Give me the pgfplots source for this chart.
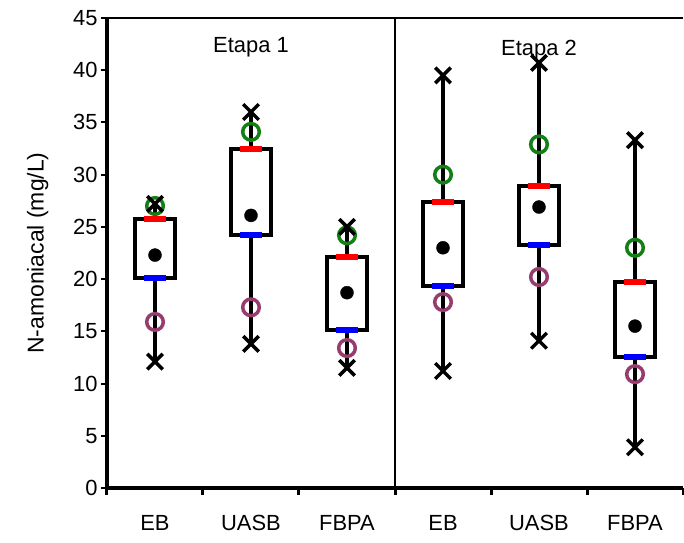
\documentclass[border=0pt]{standalone}
\usepackage{pgfplots}
\pgfplotsset{compat=1.18}
\usepackage{fontspec}
\setmainfont{Liberation Sans}
\definecolor{pgreen}{RGB}{20,128,20}
\definecolor{pplum}{RGB}{150,60,110}
\begin{document}
\begin{tikzpicture}
\useasboundingbox (-107bp,-55bp) rectangle (577bp,488bp);
\pgfplotstableread{
x  min  q1   mean q3   max  p10  p90
1  12.1 20.1 22.3 25.8 27.2 15.9 27.0
2  13.8 24.2 26.1 32.5 36.0 17.3 34.1
3  11.5 15.1 18.7 22.1 25.0 13.4 24.2
4  11.2 19.3 23.0 27.4 39.5 17.8 30.0
5  14.1 23.3 26.9 28.9 40.7 20.2 32.9
6  3.9  12.5 15.5 19.7 33.3 10.9 23.0
}\data
\begin{axis}[
  scale only axis, width=576bp, height=470bp,
  xmin=0.5, xmax=6.5, ymin=0, ymax=45,
  axis x line*=bottom, axis y line*=left,
  axis line style={line width=3.5bp},
  ytick={0,5,...,45},
  xtick={1,...,6},
  xticklabels={EB,UASB,FBPA,EB,UASB,FBPA},
  minor xtick={0.5,1.5,...,6.5},
  tick align=outside,
  major tick length=6bp, minor tick length=7bp,
  major x tick style={draw=none},
  minor x tick style={line width=3bp, black},
  y tick style={line width=2bp, black},
  /pgf/number format/assume math mode=true,
  tick label style={font=\fontsize{22}{26}\selectfont},
  xticklabel style={yshift=-18bp},
  ylabel={N-amoniacal (mg/L)},
  ylabel style={font=\fontsize{23}{26}\selectfont, yshift=18bp},
  clip=false,
]
% whiskers
\addplot[black, line width=4bp] coordinates {(1,12.1) (1,27.2)};
\addplot[black, line width=4bp] coordinates {(2,13.8) (2,36.0)};
\addplot[black, line width=4bp] coordinates {(3,11.5) (3,25.0)};
\addplot[black, line width=4bp] coordinates {(4,11.2) (4,39.5)};
\addplot[black, line width=4bp] coordinates {(5,14.1) (5,40.7)};
\addplot[black, line width=4bp] coordinates {(6,3.9) (6,33.3)};
% boxes (q1 to q3)
\addplot[black, line width=4bp, fill=white] coordinates {(0.79,20.1) (1.21,20.1) (1.21,25.8) (0.79,25.8)} -- cycle;
\addplot[black, line width=4bp, fill=white] coordinates {(1.79,24.2) (2.21,24.2) (2.21,32.5) (1.79,32.5)} -- cycle;
\addplot[black, line width=4bp, fill=white] coordinates {(2.79,15.1) (3.21,15.1) (3.21,22.1) (2.79,22.1)} -- cycle;
\addplot[black, line width=4bp, fill=white] coordinates {(3.79,19.3) (4.21,19.3) (4.21,27.4) (3.79,27.4)} -- cycle;
\addplot[black, line width=4bp, fill=white] coordinates {(4.79,23.3) (5.21,23.3) (5.21,28.9) (4.79,28.9)} -- cycle;
\addplot[black, line width=4bp, fill=white] coordinates {(5.79,12.5) (6.21,12.5) (6.21,19.7) (5.79,19.7)} -- cycle;
% quartile bars
\addplot[only marks, mark=-, mark size=11bp, mark options={red, line width=6bp}] table[x=x, y=q3] {\data};
\addplot[only marks, mark=-, mark size=11bp, mark options={blue, line width=6bp}] table[x=x, y=q1] {\data};
% percentiles
\addplot[only marks, mark=o, mark size=8.3bp, mark options={pgreen, line width=3.5bp}] table[x=x, y=p90] {\data};
\addplot[only marks, mark=o, mark size=8.3bp, mark options={pplum, line width=3.5bp}] table[x=x, y=p10] {\data};
% min / max
\addplot[only marks, mark=x, mark size=11bp, mark options={black, line width=3.5bp}] table[x=x, y=max] {\data};
\addplot[only marks, mark=x, mark size=11bp, mark options={black, line width=3.5bp}] table[x=x, y=min] {\data};
% mean
\addplot[only marks, mark=*, mark size=6.5bp, mark options={black}] table[x=x, y=mean] {\data};
% frame and separator
\draw[line width=2bp] (axis cs:0.5,45) -- (axis cs:6.5,45);
\draw[line width=1.5bp] (axis cs:3.5,0) -- (axis cs:3.5,45);
\node[font=\fontsize{22}{26}\selectfont] at (axis cs:2,42.2) {Etapa 1};
\node[font=\fontsize{22}{26}\selectfont] at (axis cs:5,41.9) {Etapa 2};
\end{axis}
\end{tikzpicture}
\end{document}
